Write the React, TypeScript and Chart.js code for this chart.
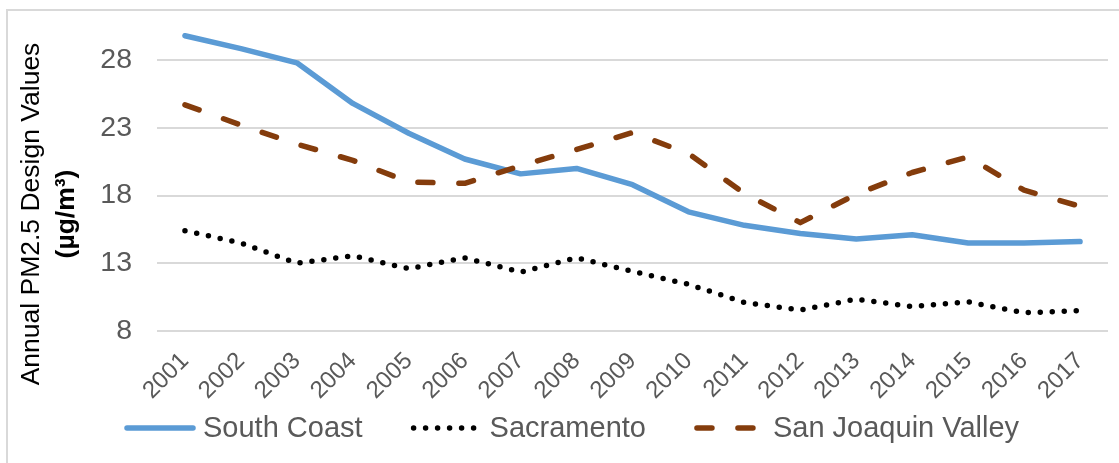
import React, { useEffect, useRef } from "react";
import { Chart, registerables } from "chart.js";

Chart.register(...registerables);

const years = ["2001", "2002", "2003", "2004", "2005", "2006", "2007", "2008", "2009", "2010", "2011", "2012", "2013", "2014", "2015", "2016", "2017"];
const southCoast = [29.8, 28.85, 27.8, 24.8, 22.6, 20.7, 19.6, 20.0, 18.8, 16.8, 15.8, 15.2, 14.8, 15.1, 14.5, 14.5, 14.6];
const sacramento = [15.4, 14.5, 13.0, 13.55, 12.6, 13.4, 12.35, 13.4, 12.4, 11.45, 10.1, 9.55, 10.35, 9.8, 10.15, 9.35, 9.5];
const sanJoaquin = [24.7, 23.2, 21.8, 20.6, 19.0, 18.9, 20.2, 21.4, 22.65, 21.1, 18.15, 16.0, 18.1, 19.7, 20.85, 18.4, 17.2];
const yTicks = [8, 13, 18, 23, 28];
const yTitle1 = "Annual PM2.5 Design Values";
const yTitle2 = "(µg/m³)";

const FONT = "'Liberation Sans', Arial, sans-serif";

const titlePlugin = {
  id: "yTitle2Lines",
  afterDraw(chart: any) {
    const ctx = chart.ctx;
    ctx.save();
    ctx.translate(32, 214);
    ctx.rotate(-Math.PI / 2);
    ctx.textAlign = "center";
    ctx.textBaseline = "middle";
    ctx.fillStyle = "#000000";
    ctx.font = `26.5px ${FONT}`;
    ctx.fillText(yTitle1, 0, 0);
    ctx.font = `bold 26.5px ${FONT}`;
    ctx.fillText(yTitle2, 0, 35);
    ctx.restore();
  },
};

const legendPlugin = {
  id: "bottomLegend",
  afterDraw(chart: any) {
    const ctx = chart.ctx;
    ctx.save();
    ctx.font = `29px ${FONT}`;
    ctx.textBaseline = "middle";
    ctx.textAlign = "left";
    const y = 428;
    let x = 127;
    chart.data.datasets.forEach((ds: any) => {
      ctx.save();
      ctx.strokeStyle = ds.borderColor;
      ctx.lineWidth = ds.borderWidth;
      ctx.lineCap = ds.borderCapStyle || "butt";
      ctx.setLineDash(ds.borderDash || []);
      ctx.beginPath();
      ctx.moveTo(x, y);
      ctx.lineTo(x + 66, y);
      ctx.stroke();
      ctx.restore();
      ctx.fillStyle = "#595959";
      ctx.fillText(ds.label, x + 76, y + 1);
      x += 76 + ctx.measureText(ds.label).width + 51;
    });
    ctx.restore();
  },
};

export default function App() {
  const ref = useRef<HTMLCanvasElement>(null);
  useEffect(() => {
    if (!ref.current) return;
    const chart = new Chart(ref.current, {
      type: "line",
      data: {
        labels: years,
        datasets: [
          {
            label: "South Coast",
            data: southCoast,
            borderColor: "#5B9BD5",
            backgroundColor: "#5B9BD5",
            borderWidth: 5.5,
            borderCapStyle: "round",
            borderJoinStyle: "round",
            pointRadius: 0,
            tension: 0,
            order: 2,
          },
          {
            label: "Sacramento",
            data: sacramento,
            borderColor: "#000000",
            backgroundColor: "#000000",
            borderWidth: 5.5,
            borderDash: [0, 12],
            borderCapStyle: "round",
            borderJoinStyle: "round",
            pointRadius: 0,
            tension: 0,
            order: 1,
          },
          {
            label: "San Joaquin Valley",
            data: sanJoaquin,
            borderColor: "#843C0C",
            backgroundColor: "#843C0C",
            borderWidth: 5.5,
            borderDash: [15, 26],
            borderCapStyle: "round",
            borderJoinStyle: "round",
            pointRadius: 0,
            tension: 0,
            order: 0,
          },
        ],
      },
      options: {
        animation: false,
        responsive: false,
        devicePixelRatio: 1,
        layout: { padding: { left: 38, right: 11, top: 33, bottom: 62 } },
        plugins: {
          tooltip: { enabled: false },
          legend: { display: false },
        },
        scales: {
          x: {
            offset: true,
            grid: { display: false, drawTicks: false },
            border: { display: false },
            ticks: {
              color: "#595959",
              font: { family: FONT, size: 24 },
              minRotation: 45,
              maxRotation: 45,
              autoSkip: false,
              padding: 16,
            },
            afterFit(scale: any) {
              scale.height = 70;
              scale.paddingLeft = 0;
              scale.paddingRight = 0;
            },
          },
          y: {
            min: 8,
            max: 30,
            grid: { color: "#D9D9D9", lineWidth: 2, drawTicks: false },
            border: { display: false },
            ticks: {
              color: "#595959",
              font: { family: FONT, size: 28.5 },
              padding: 25,
            },
            afterBuildTicks(scale: any) {
              scale.ticks = yTicks.map((v) => ({ value: v }));
            },
            afterFit(scale: any) {
              scale.width = 119;
              scale.paddingTop = 0;
              scale.paddingBottom = 0;
            },
          },
        },
      },
      plugins: [titlePlugin, legendPlugin],
    });
    return () => chart.destroy();
  }, []);

  return (
    <div style={{ position: "absolute", left: 0, top: 0, width: 1119, height: 463, overflow: "hidden", background: "#fff" }}>
      <div style={{ position: "absolute", left: 6, top: 9, width: 2000, height: 2000, border: "2px solid #D9D9D9" }} />
      <canvas ref={ref} width={1119} height={463} style={{ position: "absolute", left: 0, top: 0, width: 1119, height: 463 }} />
    </div>
  );
}
